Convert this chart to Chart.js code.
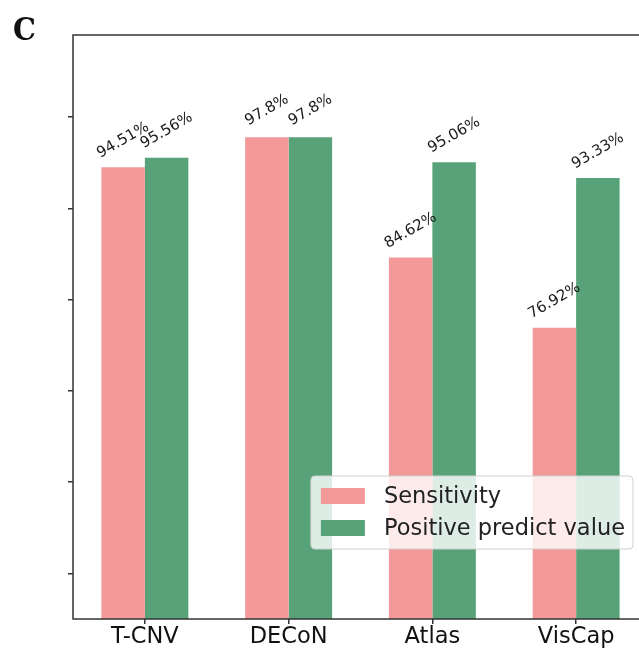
<!DOCTYPE html>
<html>
<head>
<meta charset="utf-8">
<script src="https://cdn.jsdelivr.net/npm/chart.js@4"></script>
<style>
  html, body { margin: 0; padding: 0; background: #fff; overflow: hidden; }
  #wrap { position: absolute; left: 0; top: 0; width: 660px; height: 654px; }
  #panel { position: absolute; left: 13px; top: 13px; font: bold 32px "DejaVu Serif Condensed", "DejaVu Serif", serif; color: #111; line-height: 1; }
</style>
</head>
<body>
<div id="wrap"><canvas id="chart"></canvas></div>
<div id="panel">C</div>
<script>
const categories = ['T-CNV', 'DECoN', 'Atlas', 'VisCap'];
const sensitivity = [94.51, 97.8, 84.62, 76.92];
const ppv = [95.56, 97.8, 95.06, 93.33];
const seriesNames = ['Sensitivity', 'Positive predict value'];
const yTicks = [50, 60, 70, 80, 90, 100];

const PINK = '#F39999';
const GREEN = '#58A279';
const FRAME = '#333';

// frame round the plot area, like matplotlib axes
const framePlugin = {
    id: 'frame',
    afterDraw(chart) {
        const { ctx, chartArea: a } = chart;
        ctx.save();
        ctx.strokeStyle = FRAME;
        ctx.lineWidth = 1.5;
        ctx.strokeRect(a.left, a.top, a.right - a.left, a.bottom - a.top);
        ctx.restore();
    }
};

// rotated percentage labels above bars
const valueLabels = {
    id: 'valueLabels',
    afterDatasetsDraw(chart) {
        const ctx = chart.ctx;
        ctx.save();
        ctx.font = '15px "DejaVu Sans"';
        ctx.fillStyle = '#1a1a1a';
        ctx.textAlign = 'center';
        ctx.textBaseline = 'middle';
        chart.data.datasets.forEach((ds, i) => {
            chart.getDatasetMeta(i).data.forEach((bar, j) => {
                ctx.save();
                ctx.translate(bar.x, bar.y - 27);
                ctx.rotate(-Math.PI / 6);
                ctx.fillText(ds.data[j] + '%', 0, 0);
                ctx.restore();
            });
        });
        ctx.restore();
    }
};

// legend box in the lower right of the axes
const innerLegend = {
    id: 'innerLegend',
    afterDraw(chart) {
        const { ctx, chartArea: a } = chart;
        ctx.save();
        ctx.font = '22.5px "DejaVu Sans"';
        const textW = Math.max(...chart.data.datasets.map(d => ctx.measureText(d.label).width));
        const w = 73 + textW + 8;
        const h = 73;
        const right = a.right - 15;
        const bottom = a.bottom - 70;
        const left = right - w;
        const top = bottom - h;

        ctx.beginPath();
        ctx.roundRect(left, top, w, h, 4);
        ctx.fillStyle = 'rgba(255,255,255,0.8)';
        ctx.fill();
        ctx.strokeStyle = '#d0d0d0';
        ctx.lineWidth = 1;
        ctx.stroke();

        ctx.textBaseline = 'middle';
        ctx.textAlign = 'left';
        chart.data.datasets.forEach((ds, i) => {
            const cy = top + 20 + i * 32;
            ctx.fillStyle = ds.backgroundColor;
            ctx.fillRect(left + 10, cy - 8, 44, 16);
            ctx.fillStyle = '#222';
            ctx.fillText(ds.label, left + 73, cy + 1);
        });
        ctx.restore();
    }
};

new Chart(document.getElementById('chart'), {
    type: 'bar',
    data: {
        labels: categories,
        datasets: [
            { label: seriesNames[0], data: sensitivity, backgroundColor: PINK },
            { label: seriesNames[1], data: ppv, backgroundColor: GREEN }
        ]
    },
    options: {
        animation: false,
        responsive: true,
        maintainAspectRatio: false,
        categoryPercentage: 0.605,
        barPercentage: 1.0,
        layout: { padding: { left: 68, top: 35, right: 12, bottom: 3 } },
        plugins: {
            legend: { display: false },
            tooltip: { enabled: false }
        },
        scales: {
            x: {
                border: { display: false },
                grid: { offset: false, drawOnChartArea: false, drawTicks: true, tickLength: 5, color: FRAME, lineWidth: 1.5 },
                ticks: { color: '#111', padding: 0, font: { family: 'DejaVu Sans', size: 22.5 } }
            },
            y: {
                min: 45,
                max: 109,
                afterBuildTicks(scale) {
                    scale.ticks = yTicks.map(v => ({ value: v }));
                },
                border: { display: false },
                grid: { drawOnChartArea: false, drawTicks: true, tickLength: 5, color: FRAME, lineWidth: 1.5 },
                ticks: { display: false }
            }
        }
    },
    plugins: [framePlugin, valueLabels, innerLegend]
});
</script>
</body>
</html>
